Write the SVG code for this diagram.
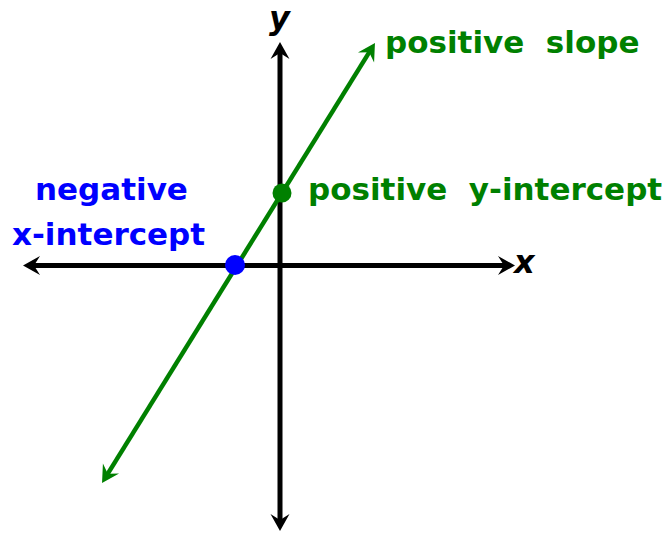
<svg xmlns="http://www.w3.org/2000/svg" width="669" height="534" viewBox="0 0 669 534">
<style>
.lbl{font-family:"DejaVu Sans","Verdana",sans-serif;font-weight:bold;font-size:31px;white-space:pre}
.ax{font-family:"DejaVu Sans","Verdana",sans-serif;font-weight:bold;font-style:italic;font-size:32px;fill:#000}
.g{fill:#008000}
.b{fill:#0000ff}
</style>
<defs>
<marker id="ak" markerUnits="userSpaceOnUse" markerWidth="40" markerHeight="40" refX="0" refY="0" orient="auto-start-reverse" overflow="visible">
<path d="M6,0 L-11,-9.5 L-5,0 L-11,9.5 Z" fill="#000"/>
</marker>
<marker id="ag" markerUnits="userSpaceOnUse" markerWidth="40" markerHeight="40" refX="0" refY="0" orient="auto-start-reverse" overflow="visible">
<path d="M6,0 L-11,-9.5 L-5,0 L-11,9.5 Z" fill="#008000"/>
</marker>
</defs>
<g id="connectors">
<line x1="280" y1="48" x2="280" y2="525" stroke="#000" stroke-width="5" marker-start="url(#ak)" marker-end="url(#ak)"/>
<line x1="29" y1="265.5" x2="509" y2="265.5" stroke="#000" stroke-width="5" marker-start="url(#ak)" marker-end="url(#ak)"/>
<line x1="105.2" y1="477.9" x2="371.8" y2="48.1" stroke="#008000" stroke-width="4.5" marker-start="url(#ag)" marker-end="url(#ag)"/>
</g>
<g id="y-intercept">
<circle cx="282" cy="193" r="9.5" fill="#008000"/>
<text class="lbl g" x="308" y="200">positive  y-intercept</text>
</g>
<g id="x-intercept">
<circle cx="235" cy="265" r="10" fill="#0000ff"/>
<text class="lbl b" x="35" y="200">negative</text>
<text class="lbl b" x="12" y="245">x-intercept</text>
</g>
<g id="slope">
<text class="lbl g" x="385" y="53">positive  slope</text>
</g>
<g id="axis-labels">
<text class="ax" x="269" y="29">y</text>
<text class="ax" x="514" y="273">x</text>
</g>
</svg>
